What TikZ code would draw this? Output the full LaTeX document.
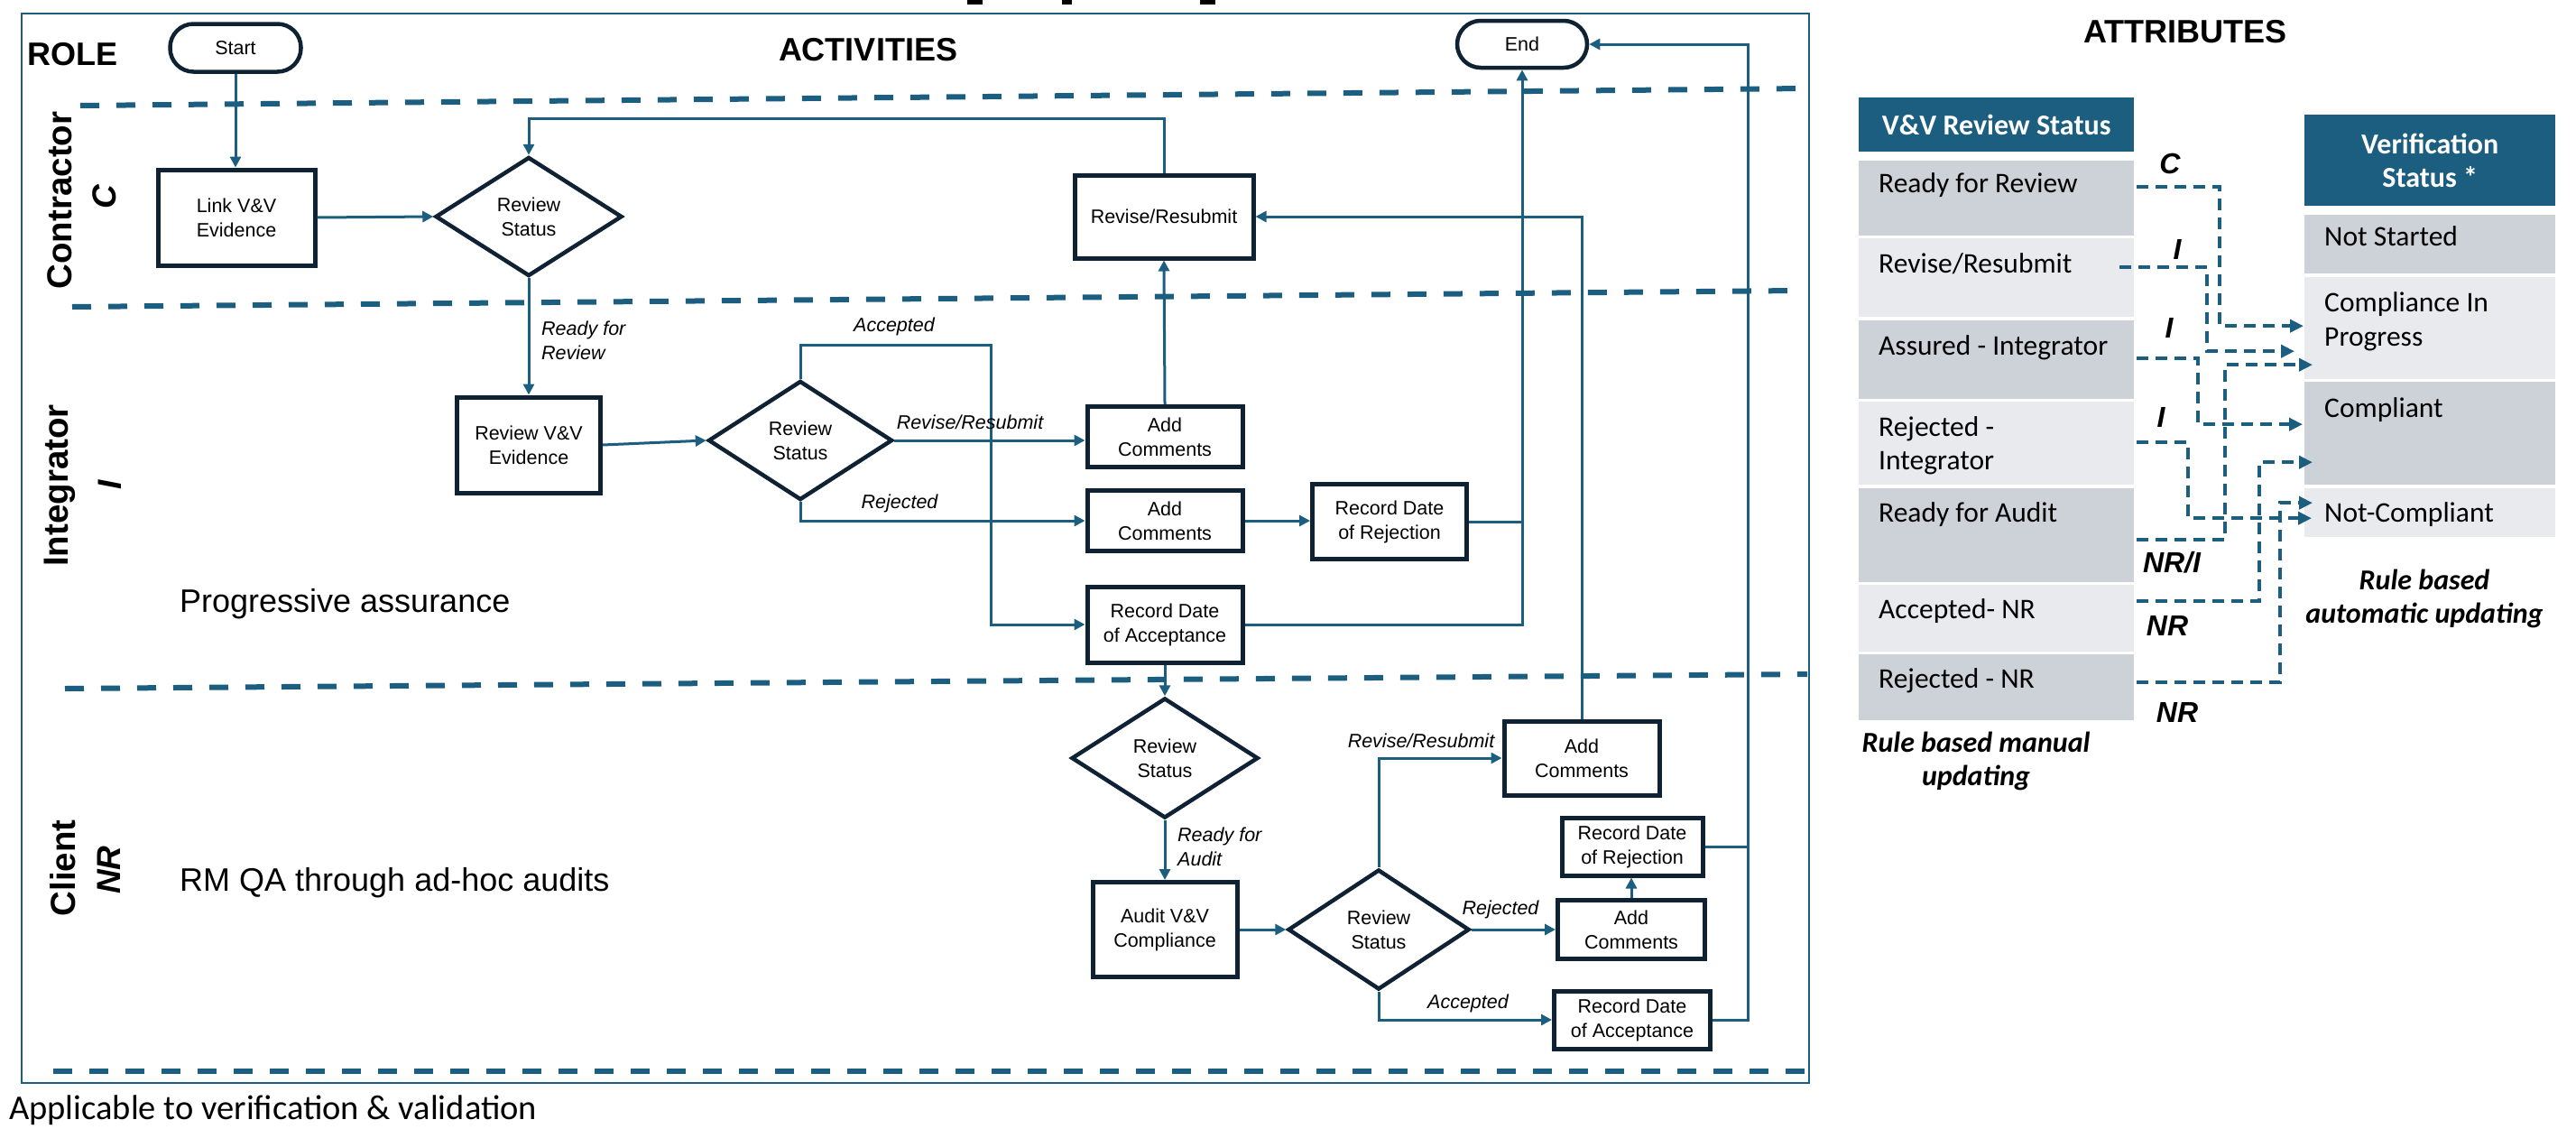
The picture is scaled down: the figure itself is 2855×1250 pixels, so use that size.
\documentclass[tikz,border=0pt]{standalone}
\usepackage{fontspec}
\setmainfont{Liberation Sans}
\newfontfamily\cellfont{Carlito}
\usetikzlibrary{shapes.geometric,arrows.meta}

\definecolor{laneblue}{RGB}{28,94,128}
\definecolor{boxedge}{RGB}{14,34,52}
\definecolor{cellmid}{RGB}{205,209,216}
\definecolor{celllight}{RGB}{232,234,238}

\newcommand\fsz[2]{\fontsize{#1}{#2}\selectfont}

\begin{document}
\begin{tikzpicture}[x=1pt,y=-1pt,
  procbox/.style={draw=boxedge, line width=5pt, fill=white, align=center, inner sep=0pt, font=\fsz{21.5}{27}},
  decision/.style={diamond, draw=boxedge, line width=4.5pt, fill=white, align=center, inner sep=0pt, font=\fsz{21.5}{27}},
  terminal/.style={procbox, line width=4.5pt, rounded corners=26pt},
  flow/.style={draw=laneblue, line width=3pt, -{Triangle[length=12pt,width=12pt]}},
  joinline/.style={draw=laneblue, line width=3pt},
  lanesep/.style={draw=laneblue, line width=6pt, dash pattern=on 21pt off 19pt},
  edgetext/.style={font=\fsz{21.5}{27}\itshape, align=left, inner sep=0pt},
  heading/.style={font=\fsz{36}{40}\bfseries, inner sep=0pt},
  roletext/.style={rotate=90, font=\fsz{38.5}{40}\bfseries, inner sep=0pt},
  rolecode/.style={rotate=90, font=\fsz{37}{40}\bfseries\itshape, inner sep=0pt},
  note/.style={font=\fsz{36}{40}, inner sep=0pt, anchor=base west},
  cell/.style={inner sep=0pt, anchor=north west},
  celltext/.style={font=\fsz{31.5}{37}\cellfont, align=left, inner sep=0pt, anchor=north west},
  headtext/.style={font=\fsz{32}{37}\cellfont\bfseries, text=white, align=center},
  maptag/.style={font=\fsz{32}{36}\bfseries\itshape, inner sep=0pt},
  rulenote/.style={font=\fsz{32}{37}\cellfont\bfseries\itshape, align=center, inner sep=0pt},
  mapflow/.style={draw=laneblue, line width=4pt, dash pattern=on 13pt off 8pt, -{Triangle[length=15pt,width=14pt]}}
]
\useasboundingbox (0,0) rectangle (2855,1250);
\fill[white] (0,0) rectangle (2855,1250);

% clipped title strokes along the top edge
\fill[black] (1072,0) rectangle (1089,5);
\fill[black] (1177,0) rectangle (1188,5);
\fill[black] (1330,0) rectangle (1347,5);

% swimlane frame and lane separators
\draw[laneblue, line width=2.5pt] (24,15) rectangle (2005,1200);
\draw[lanesep] (89,117) -- (2000,98);
\draw[lanesep] (80,340) -- (1990,322);
\draw[lanesep] (72,763) -- (2003,747);
\draw[lanesep] (59,1187) -- (2003,1187);

% headings
\node[heading] (roleHead) at (81,60) {ROLE};
\node[heading] (actHead) at (962,55) {ACTIVITIES};
\node[heading] (attrHead) at (2422,35) {ATTRIBUTES};

% lane names
\node[roletext] (laneC) at (66,222) {Contractor};
\node[rolecode] (codeC) at (116,218) {C};
\node[roletext] (laneI) at (66,538) {Integrator};
\node[rolecode] (codeI) at (122,537) {I};
\node[roletext] (laneN) at (70,962) {Client};
\node[rolecode] (codeN) at (121,964) {NR};

\node[note] (noteI) at (199,678) {Progressive assurance};
\node[note] (noteN) at (199,987) {RM QA through ad-hoc audits};
\node[note, font=\fsz{38.5}{42}\cellfont] (noteVV) at (10,1240) {Applicable to verification \& validation};

% process nodes
\node[terminal, minimum width=145pt, minimum height=53pt] (startN) at (261,53) {Start};
\node[terminal, minimum width=144pt, minimum height=52pt] (endN) at (1687,49) {End};
\node[procbox, minimum width=174pt, minimum height=106pt] (linkC) at (262,241) {Link V\&V\\Evidence};
\node[decision, minimum width=207pt, minimum height=132pt] (dC) at (586,240) {Review\\Status};
\node[procbox, minimum width=198pt, minimum height=92pt] (revC) at (1290,240) {Revise/Resubmit};
\node[procbox, minimum width=159pt, minimum height=106pt] (reviewI) at (586,493) {Review V\&V\\Evidence};
\node[decision, minimum width=204pt, minimum height=132pt] (dI) at (887,488) {Review\\Status};
\node[procbox, minimum width=172pt, minimum height=67pt] (acI1) at (1291,484) {Add\\Comments};
\node[procbox, minimum width=172pt, minimum height=67pt] (acI2) at (1291,577) {Add\\Comments};
\node[procbox, minimum width=171pt, minimum height=83pt] (rdrI) at (1540,578) {Record Date\\of Rejection};
\node[procbox, minimum width=172pt, minimum height=84pt] (rdaI) at (1291,692) {Record Date\\of Acceptance};
\node[decision, minimum width=207pt, minimum height=133pt] (dNR) at (1291,840) {Review\\Status};
\node[procbox, minimum width=160pt, minimum height=105pt] (auditN) at (1291,1030) {Audit V\&V\\Compliance};
\node[decision, minimum width=201pt, minimum height=133pt] (dN2) at (1528,1030) {Review\\Status};
\node[procbox, minimum width=172pt, minimum height=82pt] (acNR1) at (1753,840) {Add\\Comments};
\node[procbox, minimum width=163pt, minimum height=65pt] (acNR2) at (1808,1030) {Add\\Comments};
\node[procbox, minimum width=156pt, minimum height=64pt] (rdrN) at (1809,938) {Record Date\\of Rejection};
\node[procbox, minimum width=173pt, minimum height=64pt] (rdaN) at (1809,1130) {Record Date\\of Acceptance};

% routing points
\coordinate (loopC) at (586,131);
\coordinate (accI) at (1098,382);
\coordinate (railR) at (1937,49);

% contractor lane
\draw[flow] (startN.south) -- (startN.south |- linkC.north);
\draw[flow] (linkC.east) -- (dC.west);
\draw[flow] (revC.north) |- (loopC) -- (dC.north);
\draw[flow] (dC.south) -- (dC.south |- reviewI.north);

% integrator lane
\draw[flow] (reviewI.east) -- (dI.west);
\draw[flow] (dI.east) -- (dI.east -| acI1.west);
\draw[flow] (dI.north) |- (accI) |- (rdaI.west);
\draw[flow] (dI.south) |- (acI2.west);
\draw[flow] (acI2.east) -- (acI2.east -| rdrI.west);
\draw[flow] (acI1.north) -- (revC.south);
\draw[flow] (rdaI.east) -| (endN.south);
\draw[joinline] (rdrI.east) -- (rdrI.east -| endN.south);
\draw[flow] (rdaI.south) -- (dNR.north);

% client lane
\draw[flow] (dNR.south) -- (auditN.north);
\draw[flow] (auditN.east) -- (dN2.west);
\draw[flow] (dN2.north) |- (acNR1.west);
\draw[flow] (dN2.east) -- (acNR2.west);
\draw[flow] (dN2.south) |- (rdaN.west);
\draw[flow] (acNR2.north) -- (acNR2.north |- rdrN.south);
\draw[flow] (acNR1.north) |- (revC.east);
\draw[flow] (rdaN.east) -| (railR) -- (endN.east);
\draw[joinline] (rdrN.east) -- (rdrN.east -| railR);

% connector labels
\node[edgetext, anchor=west] (lblRfr) at (600,377) {Ready for\\Review};
\node[edgetext] (lblAccI) at (991,362) {Accepted};
\node[edgetext] (lblRevI) at (1075,468) {Revise/Resubmit};
\node[edgetext] (lblRejI) at (997,558) {Rejected};
\node[edgetext, anchor=west] (lblRfa) at (1305,938) {Ready for\\Audit};
\node[edgetext] (lblRevN) at (1575,821) {Revise/Resubmit};
\node[edgetext] (lblRejN) at (1663,1008) {Rejected};
\node[edgetext] (lblAccN) at (1627,1112) {Accepted};

% review status table
\node[cell, fill=laneblue, minimum width=305pt, minimum height=60pt, headtext] (hdrL) at (2060,108) {V\&V Review Status};
\node[cell, fill=cellmid, minimum width=305pt, minimum height=83pt] (r1) at (2060,178) {};
\node[cell, fill=celllight, minimum width=305pt, minimum height=87pt] (r2) at (2060,264) {};
\node[cell, fill=cellmid, minimum width=305pt, minimum height=87pt] (r3) at (2060,355) {};
\node[cell, fill=celllight, minimum width=305pt, minimum height=92pt] (r4) at (2060,445) {};
\node[cell, fill=cellmid, minimum width=305pt, minimum height=104pt] (r5) at (2060,541) {};
\node[cell, fill=celllight, minimum width=305pt, minimum height=74pt] (r6) at (2060,648) {};
\node[cell, fill=cellmid, minimum width=305pt, minimum height=73pt] (r7) at (2060,725) {};
\node[celltext] (t1) at (2082,191) {Ready for Review};
\node[celltext] (t2) at (2082,280) {Revise/Resubmit};
\node[celltext] (t3) at (2082,371) {Assured - Integrator};
\node[celltext] (t4) at (2082,461) {Rejected -\\Integrator};
\node[celltext] (t5) at (2082,556) {Ready for Audit};
\node[celltext] (t6) at (2082,663) {Accepted- NR};
\node[celltext] (t7) at (2082,740) {Rejected - NR};

% verification status table
\node[cell, fill=laneblue, minimum width=278pt, minimum height=101pt, headtext] (hdrR) at (2554,127) {Verification\\Status *};
\node[cell, fill=cellmid, minimum width=278pt, minimum height=65pt] (s1) at (2554,238) {};
\node[cell, fill=celllight, minimum width=278pt, minimum height=113pt] (s2) at (2554,307) {};
\node[cell, fill=cellmid, minimum width=278pt, minimum height=114pt] (s3) at (2554,423) {};
\node[cell, fill=celllight, minimum width=278pt, minimum height=54pt] (s4) at (2554,541) {};
\node[celltext] (u1) at (2576,250) {Not Started};
\node[celltext, font=\fsz{31.5}{38}\cellfont] (u2) at (2576,323) {Compliance In\\Progress};
\node[celltext] (u3) at (2576,440) {Compliant};
\node[celltext] (u4) at (2576,556) {Not-Compliant};

% status mapping
\draw[mapflow] ([xshift=3pt,yshift=12.5pt]r1.east) -- ++(92,0) |- ([xshift=-1pt,yshift=2.5pt]s2.west);
\draw[mapflow] ([xshift=-16pt,yshift=11.5pt]r2.east) -- ++(97,0) |- ([xshift=-11pt,yshift=-25.5pt]s2.west);
\draw[mapflow] ([xshift=3pt,yshift=1.5pt]r3.east) -- ++(68,0) |- ([xshift=-2pt,yshift=10pt]s3.west);
\draw[mapflow] ([xshift=3pt,yshift=1pt]r4.east) -- ++(57,0) |- ([xshift=8pt,yshift=-6pt]s4.west);
\draw[mapflow] ([xshift=3pt,yshift=-5pt]r5.east) -- ++(98,0) |- ([xshift=9pt,yshift=-40.5pt]s2.west);
\draw[mapflow] ([xshift=3pt,yshift=19pt]r6.east) -- ++(136,0) |- ([xshift=9pt,yshift=-32pt]s3.west);
\draw[mapflow] ([xshift=3pt,yshift=5.5pt]r7.east) -- ++(159,0) |- ([xshift=9pt,yshift=11pt]s4.west);

\node[maptag] (m1) at (2405,181) {C};
\node[maptag] (m2) at (2413,276) {I};
\node[maptag] (m3) at (2404,363) {I};
\node[maptag] (m4) at (2395,462) {I};
\node[maptag] (m5) at (2407,623) {NR/I};
\node[maptag] (m6) at (2402,693) {NR};
\node[maptag] (m7) at (2413,789) {NR};

\node[rulenote] (ruleManual) at (2190,843) {Rule based manual\\updating};
\node[rulenote] (ruleAuto) at (2687,663) {Rule based\\automatic updating};
\end{tikzpicture}
\end{document}
